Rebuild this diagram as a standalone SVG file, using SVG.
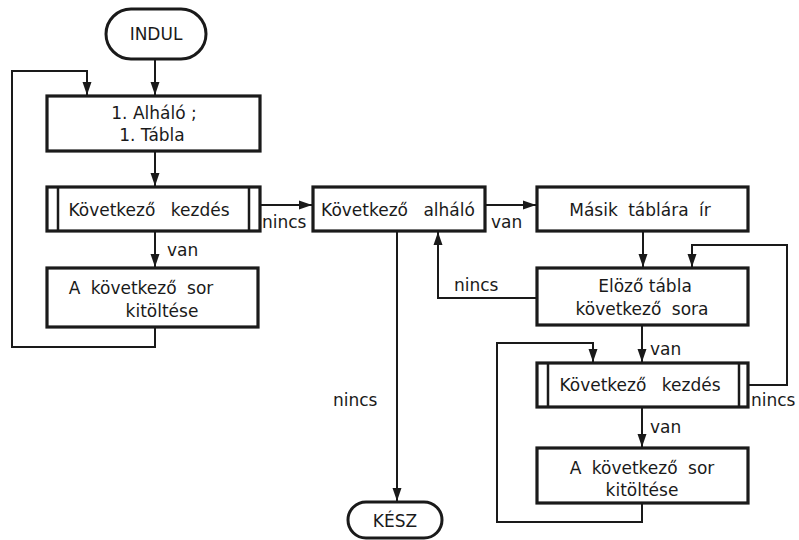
<svg xmlns="http://www.w3.org/2000/svg" width="799" height="540" viewBox="0 0 799 540">
<defs>
<style>
.box{fill:#fff;stroke:#1a1a1a;stroke-width:3.2}
.inner{stroke:#1a1a1a;stroke-width:2.5}
.term{fill:#fff;stroke:#1a1a1a;stroke-width:3}
.ln{fill:none;stroke:#1a1a1a;stroke-width:2}
text{font-family:"DejaVu Sans","Liberation Sans",sans-serif;font-size:17px;fill:#1a1a1a;text-anchor:middle}
.lbl{text-anchor:start}
.ws{word-spacing:10px}
.ws2{word-spacing:5px}
</style>
<marker id="ah" markerUnits="userSpaceOnUse" markerWidth="14" markerHeight="10" refX="13" refY="5" orient="auto">
<path d="M0,0.5 L13,5 L0,9.5 Z" fill="#1a1a1a"/>
</marker>
</defs>
<rect width="799" height="540" fill="#fff"/>
<g id="connectors">
<path class="ln" d="M155,59 V95" marker-end="url(#ah)"/>
<path class="ln" d="M155,151 V186" marker-end="url(#ah)"/>
<path class="ln" d="M155,231 V267" marker-end="url(#ah)"/>
<path class="ln" d="M155,327 V347 H12 V71 H87 V95" marker-end="url(#ah)"/>
<path class="ln" d="M260,205 H312" marker-end="url(#ah)"/>
<path class="ln" d="M485,205 H536" marker-end="url(#ah)"/>
<path class="ln" d="M397,231 V501" marker-end="url(#ah)"/>
<path class="ln" d="M537,298 H438 V232" marker-end="url(#ah)"/>
<path class="ln" d="M643,231 V267" marker-end="url(#ah)"/>
<path class="ln" d="M748,385 H787 V245 H692 V267" marker-end="url(#ah)"/>
<path class="ln" d="M642,325 V362" marker-end="url(#ah)"/>
<path class="ln" d="M642,407 V447" marker-end="url(#ah)"/>
<path class="ln" d="M642,503 V522 H497 V343 H593 V362" marker-end="url(#ah)"/>
<text class="lbl" x="262" y="228">nincs</text>
<text class="lbl" x="167" y="256">van</text>
<text class="lbl" x="491" y="228">van</text>
<text class="lbl" x="454" y="291">nincs</text>
<text class="lbl" x="650" y="355">van</text>
<text class="lbl" x="751" y="406">nincs</text>
<text class="lbl" x="650" y="433">van</text>
<text class="lbl" x="333" y="406">nincs</text>
</g>
<g id="indul">
<rect class="term" x="106" y="9" width="100" height="50" rx="25"/>
<text x="156" y="40">INDUL</text>
</g>
<g id="alhalo1">
<rect class="box" x="47" y="96" width="213" height="55"/>
<text x="154" y="119">1. Alháló ;</text>
<text x="152" y="141">1. Tábla</text>
</g>
<g id="kezdes1">
<rect class="box" x="47" y="187" width="213" height="44"/>
<line class="inner" x1="58" y1="187" x2="58" y2="231"/>
<line class="inner" x1="249" y1="187" x2="249" y2="231"/>
<text class="ws" x="149" y="216">Következő kezdés</text>
</g>
<g id="kitoltes1">
<rect class="box" x="47" y="268" width="211" height="59"/>
<text class="ws2" x="141" y="294">A következő sor</text>
<text x="162" y="317">kitöltése</text>
</g>
<g id="kov-alhalo">
<rect class="box" x="313" y="187" width="172" height="44"/>
<text class="ws" x="398" y="216">Következő alháló</text>
</g>
<g id="masik">
<rect class="box" x="537" y="187" width="211" height="44"/>
<text class="ws2" x="640" y="216">Másik táblára ír</text>
</g>
<g id="elozo">
<rect class="box" x="537" y="268" width="211" height="57"/>
<text x="645" y="292">Elöző tábla</text>
<text class="ws2" x="642" y="315">következő sora</text>
</g>
<g id="kezdes2">
<rect class="box" x="537" y="363" width="211" height="44"/>
<line class="inner" x1="548" y1="363" x2="548" y2="407"/>
<line class="inner" x1="739" y1="363" x2="739" y2="407"/>
<text class="ws" x="640" y="391">Következő kezdés</text>
</g>
<g id="kitoltes2">
<rect class="box" x="537" y="448" width="211" height="55"/>
<text class="ws2" x="642" y="474">A következő sor</text>
<text x="642" y="496">kitöltése</text>
</g>
<g id="kesz">
<rect class="term" x="348" y="502" width="94" height="36" rx="18"/>
<text x="395" y="527">KÉSZ</text>
</g>
</svg>
